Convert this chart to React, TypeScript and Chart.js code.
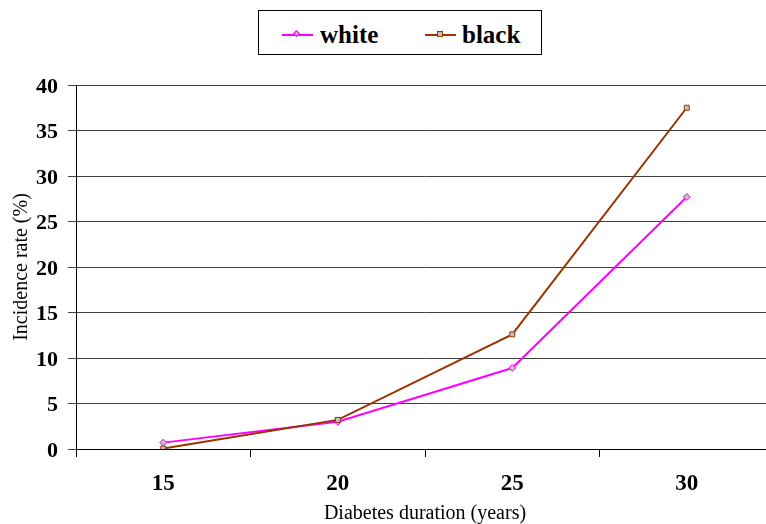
import React, { useEffect, useRef } from "react";
import { Chart, registerables } from "chart.js";

Chart.register(...registerables);

const durations = ["15", "20", "25", "30"];
const whiteRates = [0.7, 3.0, 8.9, 27.7];
const blackRates = [0.05, 3.2, 12.6, 37.5];
const yTicks = [0, 5, 10, 15, 20, 25, 30, 35, 40];

const MAGENTA = "#FF00FF";
const BROWN = "#993300";
const MARKER_FILL = "#C0C0C0";
const SERIF = "'Liberation Serif', 'Times New Roman', serif";

function LegendEntry(props: { color: string; label: string; diamond: boolean; left: number; textLeft: number }) {
  const { color, label, diamond, left, textLeft } = props;
  return (
    <>
      <div style={{ position: "absolute", left, top: 23, width: 31, height: 2, background: color }} />
      <div
        style={{
          position: "absolute",
          left: left + 12,
          top: 20,
          width: diamond ? 5 : 6,
          height: diamond ? 5 : 6,
          boxSizing: "border-box",
          background: MARKER_FILL,
          border: `1px solid ${color}`,
          transform: diamond ? "rotate(45deg)" : "none",
        }}
      />
      <div
        style={{
          position: "absolute",
          left: textLeft,
          top: 9,
          fontFamily: SERIF,
          fontWeight: "bold",
          fontSize: 25,
          lineHeight: "30px",
          color: "#000",
        }}
      >
        {label}
      </div>
    </>
  );
}

export default function App() {
  const canvasRef = useRef<HTMLCanvasElement | null>(null);

  useEffect(() => {
    const canvas = canvasRef.current;
    if (!canvas) return;
    const chart = new Chart(canvas, {
      type: "line",
      data: {
        labels: durations,
        datasets: [
          {
            label: "white",
            data: whiteRates,
            borderColor: MAGENTA,
            backgroundColor: MARKER_FILL,
            borderWidth: 2,
            pointStyle: "rectRot",
            pointRadius: 3.5,
            pointBorderColor: MAGENTA,
            pointBackgroundColor: MARKER_FILL,
            pointBorderWidth: 1,
            tension: 0,
            order: 1,
          },
          {
            label: "black",
            data: blackRates,
            borderColor: BROWN,
            backgroundColor: MARKER_FILL,
            borderWidth: 2,
            pointStyle: "rect",
            pointRadius: 3.5,
            pointBorderColor: BROWN,
            pointBackgroundColor: MARKER_FILL,
            pointBorderWidth: 1,
            tension: 0,
            order: 0,
          },
        ],
      },
      options: {
        responsive: false,
        maintainAspectRatio: false,
        devicePixelRatio: 1,
        animation: false,
        layout: { padding: { top: 85, left: 0, right: 26, bottom: 0 } },
        plugins: {
          legend: { display: false },
          tooltip: { enabled: false },
          title: { display: false },
        },
        scales: {
          x: {
            type: "category",
            offset: true,
            grid: {
              offset: true,
              drawOnChartArea: false,
              drawTicks: true,
              tickLength: 8,
              color: "#000",
            },
            border: { display: true, color: "#000", width: 1 },
            ticks: {
              color: "#000",
              padding: 13,
              font: { family: SERIF, weight: "bold", size: 23 },
            },
            title: {
              display: true,
              text: "Diabetes duration (years)",
              color: "#000",
              font: { family: SERIF, size: 20, lineHeight: 1 },
              padding: { top: 0, bottom: 0 },
            },
            afterFit: (scale: any) => {
              scale.height = 75;
            },
          },
          y: {
            min: 0,
            max: 40,
            afterBuildTicks: (scale: any) => {
              scale.ticks = yTicks.map((v) => ({ value: v }));
            },
            grid: {
              color: "#404040",
              lineWidth: 1,
              tickLength: 8,
              drawTicks: true,
            },
            border: { display: true, color: "#000", width: 1 },
            ticks: {
              color: "#000",
              padding: 10,
              labelOffset: 2,
              font: { family: SERIF, weight: "bold", size: 22 },
            },
            title: {
              display: true,
              text: "Incidence rate (%)",
              color: "#000",
              font: { family: SERIF, size: 20, lineHeight: 1.2 },
              padding: { top: 10, bottom: 0 },
            },
            afterFit: (scale: any) => {
              scale.width = 76;
            },
          },
        },
      },
    });
    return () => chart.destroy();
  }, []);

  return (
    <div
      style={{
        position: "absolute",
        left: 0,
        top: 0,
        width: 766,
        height: 524,
        overflow: "hidden",
        background: "#fff",
      }}
    >
      <canvas ref={canvasRef} width={800} height={524} style={{ display: "block", width: 800, height: 524 }} />
      <div
        style={{
          position: "absolute",
          left: 258,
          top: 10,
          width: 284,
          height: 45,
          boxSizing: "border-box",
          border: "1px solid #000",
          background: "#fff",
        }}
      >
        <LegendEntry color={MAGENTA} label="white" diamond={true} left={23} textLeft={61} />
        <LegendEntry color={BROWN} label="black" diamond={false} left={166} textLeft={203} />
      </div>
    </div>
  );
}
